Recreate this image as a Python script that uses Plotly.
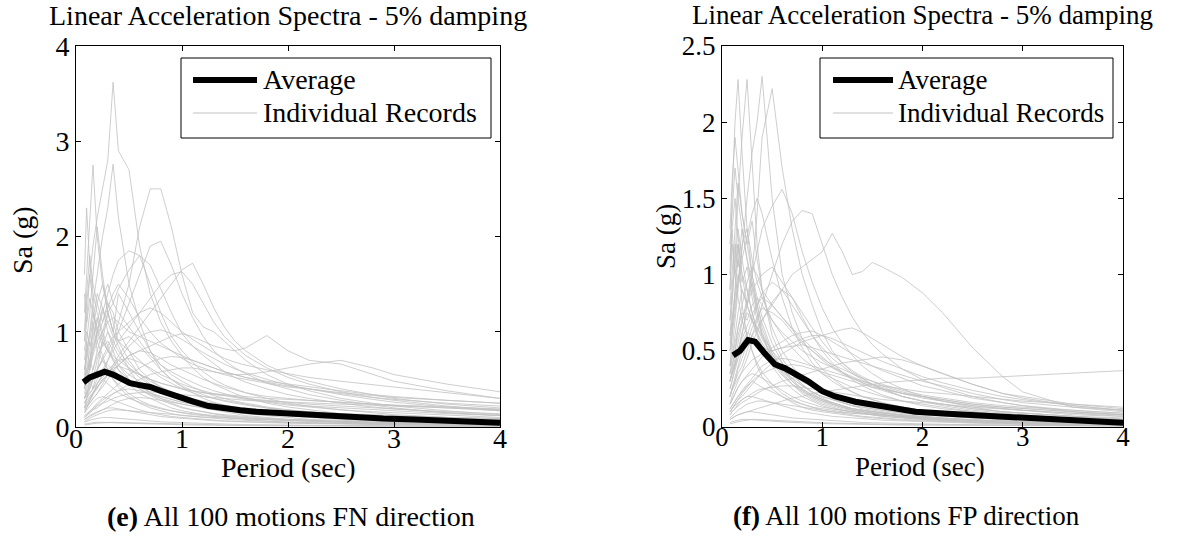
import plotly.graph_objects as go

# ---------------- data ----------------
periods = [0.08, 0.1, 0.13, 0.16, 0.2, 0.25, 0.3, 0.35, 0.4, 0.5, 0.6, 0.7, 0.8, 0.9, 1.0,
           1.1, 1.2, 1.3, 1.4, 1.5, 1.6, 1.8, 2.0, 2.2, 2.5, 2.8, 3.0, 3.5, 4.0]

fn_records = [
    [0.9,1.3,1.6,1.9,2.2,2.5,2.8,3.62,2.9,2.7,1.9,1.4,1.1,0.9,0.75,0.62,0.52,0.45,0.4,0.35,0.31,0.25,0.21,0.18,0.14,0.12,0.1,0.08,0.06],
    [0.3,0.35,0.4,0.5,0.6,0.7,0.8,0.9,1.1,1.5,2.1,2.5,2.5,2.1,1.6,1.2,1.05,1.0,0.9,0.8,0.7,0.55,0.45,0.38,0.3,0.25,0.22,0.17,0.13],
    [1.2,1.6,2.2,2.75,2.0,1.5,1.3,1.1,0.9,0.7,0.55,0.45,0.38,0.32,0.28,0.24,0.2,0.18,0.16,0.14,0.12,0.1,0.08,0.07,0.05,0.04,0.035,0.03,0.02],
    [1.6,2.3,1.7,1.4,1.2,1.0,0.85,0.7,0.6,0.45,0.35,0.3,0.25,0.2,0.17,0.15,0.13,0.11,0.1,0.09,0.08,0.06,0.05,0.045,0.035,0.03,0.025,0.02,0.015],
    [0.6,0.8,1.0,1.3,1.6,2.0,2.3,2.76,2.2,1.5,1.1,0.8,0.6,0.5,0.42,0.36,0.3,0.26,0.23,0.2,0.18,0.15,0.12,0.1,0.08,0.07,0.06,0.05,0.04],
    [0.2,0.25,0.3,0.35,0.45,0.55,0.7,0.85,1.0,1.3,1.6,1.9,1.95,1.7,1.4,1.15,0.95,0.8,0.7,0.62,0.56,0.46,0.4,0.34,0.28,0.23,0.2,0.15,0.12],
    [0.5,0.6,0.7,0.85,1.0,1.2,1.4,1.6,1.75,1.85,1.8,1.5,1.2,0.95,0.8,0.68,0.58,0.5,0.44,0.4,0.36,0.3,0.25,0.22,0.18,0.15,0.13,0.1,0.08],
    [0.3,0.4,0.5,0.6,0.8,1.0,1.2,1.3,1.45,1.65,1.8,1.7,1.45,1.2,0.98,0.85,0.75,0.66,0.58,0.52,0.47,0.4,0.34,0.3,0.25,0.21,0.19,0.15,0.12],
    [0.15,0.2,0.25,0.3,0.35,0.45,0.55,0.65,0.75,0.9,1.05,1.2,1.35,1.5,1.65,1.72,1.5,1.25,1.05,0.9,0.8,0.65,0.55,0.48,0.4,0.34,0.3,0.24,0.2],
    [0.25,0.3,0.35,0.4,0.5,0.6,0.7,0.8,0.9,1.05,1.2,1.35,1.5,1.6,1.63,1.5,1.3,1.1,0.95,0.85,0.75,0.62,0.52,0.45,0.37,0.31,0.28,0.22,0.18],
    [0.2,0.25,0.3,0.35,0.4,0.5,0.55,0.6,0.65,0.75,0.8,0.85,0.9,0.95,0.98,0.95,0.9,0.85,0.82,0.8,0.83,0.96,0.8,0.7,0.66,0.55,0.48,0.38,0.3],
    [0.1,0.12,0.15,0.18,0.2,0.25,0.3,0.35,0.38,0.45,0.5,0.55,0.58,0.6,0.62,0.62,0.6,0.58,0.56,0.55,0.55,0.58,0.62,0.66,0.7,0.62,0.55,0.45,0.37],
    [1.0,1.4,1.8,1.5,1.3,1.1,1.3,1.2,1.0,0.8,0.6,0.5,0.42,0.36,0.3,0.26,0.23,0.2,0.18,0.16,0.14,0.12,0.1,0.08,0.07,0.06,0.05,0.04,0.03],
    [0.7,0.9,1.2,1.6,2.1,1.6,1.2,1.0,0.85,0.6,0.45,0.36,0.3,0.25,0.21,0.18,0.16,0.14,0.12,0.11,0.1,0.08,0.07,0.06,0.05,0.04,0.035,0.03,0.02],
    [0.4,0.5,0.7,0.9,1.1,1.35,1.5,1.3,1.2,1.05,0.9,0.75,0.65,0.58,0.52,0.47,0.42,0.38,0.35,0.32,0.3,0.27,0.24,0.22,0.2,0.18,0.17,0.14,0.12],
    [0.5,0.55,0.65,0.8,0.95,1.1,1.25,1.4,1.5,1.35,1.15,1.0,0.88,0.8,0.72,0.66,0.62,0.58,0.55,0.52,0.5,0.46,0.42,0.4,0.36,0.33,0.31,0.28,0.25],
    [0.15,0.18,0.22,0.26,0.3,0.32,0.3,0.28,0.26,0.22,0.18,0.15,0.13,0.11,0.1,0.09,0.08,0.07,0.065,0.06,0.055,0.05,0.045,0.04,0.035,0.03,0.028,0.022,0.018],
    [0.3,0.36,0.45,0.55,0.6,0.7,0.65,0.6,0.55,0.48,0.4,0.34,0.3,0.27,0.24,0.22,0.2,0.19,0.18,0.17,0.16,0.14,0.13,0.12,0.1,0.09,0.085,0.07,0.06],
    [0.08,0.1,0.12,0.14,0.16,0.18,0.2,0.2,0.19,0.17,0.15,0.13,0.11,0.1,0.09,0.08,0.07,0.065,0.06,0.055,0.05,0.045,0.04,0.035,0.03,0.025,0.022,0.018,0.015],
    [0.6,0.75,0.95,1.2,1.05,0.9,0.8,0.75,0.7,0.62,0.55,0.5,0.46,0.43,0.4,0.38,0.36,0.34,0.33,0.32,0.3,0.28,0.26,0.24,0.22,0.2,0.19,0.16,0.14],
    [0.05,0.06,0.07,0.08,0.09,0.1,0.1,0.095,0.09,0.08,0.07,0.06,0.055,0.05,0.045,0.04,0.035,0.032,0.03,0.028,0.026,0.022,0.02,0.018,0.015,0.013,0.012,0.01,0.008],
    [0.4,0.5,0.6,0.75,0.9,1.0,1.1,1.15,1.1,1.0,0.95,0.9,0.85,0.8,0.75,0.7,0.66,0.62,0.58,0.55,0.52,0.48,0.45,0.42,0.38,0.34,0.32,0.28,0.25],
    [0.25,0.3,0.4,0.5,0.7,0.9,0.8,0.7,0.6,0.5,0.42,0.36,0.32,0.29,0.26,0.24,0.22,0.21,0.2,0.19,0.18,0.17,0.16,0.15,0.14,0.13,0.12,0.1,0.09],
    [0.2,0.22,0.25,0.3,0.35,0.42,0.5,0.58,0.65,0.75,0.8,0.78,0.72,0.65,0.6,0.55,0.5,0.46,0.42,0.39,0.36,0.32,0.3,0.28,0.26,0.24,0.23,0.21,0.19],
    [0.12,0.14,0.17,0.2,0.24,0.28,0.32,0.35,0.38,0.4,0.38,0.35,0.32,0.29,0.26,0.24,0.22,0.2,0.18,0.17,0.16,0.14,0.13,0.12,0.1,0.09,0.08,0.07,0.06],
    [0.9,1.1,1.35,1.2,1.0,0.85,0.9,0.8,0.65,0.5,0.4,0.33,0.28,0.24,0.2,0.18,0.16,0.14,0.13,0.12,0.11,0.09,0.08,0.07,0.06,0.05,0.045,0.035,0.03],
    [0.3,0.35,0.42,0.5,0.6,0.72,0.85,0.95,1.0,1.1,1.2,1.25,1.2,1.1,1.0,0.92,0.85,0.78,0.72,0.68,0.65,0.6,0.56,0.52,0.48,0.44,0.42,0.36,0.3],
    [0.1,0.12,0.15,0.18,0.22,0.25,0.27,0.3,0.32,0.35,0.36,0.37,0.36,0.35,0.34,0.33,0.32,0.31,0.3,0.29,0.28,0.27,0.26,0.25,0.24,0.23,0.22,0.2,0.18],
    [0.5,0.6,0.8,1.0,1.3,1.5,1.2,1.0,0.9,0.8,0.7,0.6,0.52,0.46,0.4,0.36,0.32,0.3,0.28,0.26,0.24,0.2,0.18,0.16,0.13,0.11,0.1,0.08,0.06],
    [0.03,0.035,0.04,0.045,0.05,0.05,0.048,0.045,0.042,0.038,0.034,0.03,0.027,0.025,0.023,0.021,0.02,0.018,0.017,0.016,0.015,0.013,0.012,0.011,0.01,0.009,0.008,0.007,0.006],
    [0.4,0.9,0.6,1.1,0.8,0.7,0.6,0.5,0.45,0.35,0.28,0.23,0.2,0.17,0.15,0.13,0.12,0.11,0.1,0.09,0.085,0.075,0.065,0.06,0.05,0.045,0.04,0.03,0.025],
    [0.2,0.3,0.5,0.4,0.6,0.9,1.2,1.0,1.4,1.2,1.0,0.8,0.65,0.55,0.48,0.42,0.37,0.33,0.3,0.27,0.25,0.21,0.18,0.16,0.13,0.11,0.1,0.08,0.07],
    [0.15,0.2,0.28,0.35,0.45,0.55,0.6,0.65,0.7,0.72,0.68,0.62,0.55,0.5,0.45,0.41,0.38,0.35,0.33,0.31,0.29,0.26,0.23,0.21,0.18,0.16,0.15,0.12,0.1],
    [0.06,0.07,0.09,0.11,0.13,0.15,0.17,0.18,0.18,0.17,0.16,0.15,0.14,0.13,0.12,0.11,0.105,0.1,0.095,0.09,0.085,0.075,0.07,0.065,0.055,0.05,0.045,0.04,0.035],
    [1.4,1.1,1.6,1.3,0.9,0.75,0.6,0.5,0.42,0.32,0.25,0.2,0.17,0.14,0.12,0.11,0.1,0.09,0.08,0.075,0.07,0.06,0.05,0.045,0.04,0.035,0.03,0.025,0.02],
    [0.35,0.45,0.6,0.8,1.0,1.25,1.1,0.95,0.9,0.95,0.85,0.72,0.6,0.5,0.43,0.38,0.34,0.3,0.27,0.25,0.23,0.2,0.17,0.15,0.12,0.1,0.09,0.07,0.06],
    [0.1,0.13,0.16,0.2,0.25,0.3,0.35,0.4,0.45,0.55,0.62,0.68,0.72,0.74,0.73,0.7,0.66,0.62,0.58,0.55,0.52,0.47,0.43,0.4,0.35,0.31,0.29,0.25,0.22],
    [0.02,0.025,0.03,0.035,0.04,0.045,0.05,0.05,0.048,0.045,0.04,0.036,0.032,0.03,0.028,0.026,0.024,0.022,0.02,0.019,0.018,0.016,0.015,0.014,0.012,0.011,0.01,0.008,0.007],
    [0.55,0.7,0.9,1.1,1.4,1.25,1.0,0.85,0.75,0.62,0.52,0.44,0.38,0.33,0.29,0.26,0.23,0.21,0.19,0.17,0.16,0.14,0.12,0.11,0.09,0.08,0.07,0.055,0.045],
    [0.25,0.28,0.32,0.36,0.42,0.48,0.55,0.62,0.7,0.85,0.95,1.0,1.02,0.98,0.92,0.85,0.78,0.72,0.66,0.61,0.57,0.5,0.44,0.4,0.34,0.29,0.26,0.21,0.17],
    [0.18,0.22,0.28,0.35,0.42,0.5,0.45,0.4,0.36,0.3,0.26,0.22,0.19,0.17,0.15,0.14,0.13,0.12,0.11,0.1,0.095,0.085,0.075,0.07,0.06,0.05,0.045,0.04,0.03],
    [0.8,1.0,0.85,0.95,1.15,0.95,0.8,0.72,0.65,0.55,0.48,0.42,0.37,0.33,0.3,0.27,0.25,0.23,0.21,0.2,0.19,0.17,0.15,0.14,0.12,0.11,0.1,0.08,0.07],
    [0.08,0.09,0.11,0.13,0.15,0.18,0.21,0.24,0.27,0.3,0.31,0.3,0.28,0.26,0.24,0.22,0.21,0.2,0.19,0.18,0.17,0.16,0.15,0.14,0.13,0.12,0.11,0.1,0.09],
    [0.45,0.55,0.7,0.6,0.75,0.85,1.0,0.9,0.8,0.66,0.56,0.48,0.42,0.37,0.33,0.3,0.27,0.25,0.23,0.21,0.2,0.18,0.16,0.14,0.12,0.1,0.09,0.07,0.06],
    [0.3,0.32,0.36,0.4,0.46,0.52,0.58,0.62,0.64,0.6,0.55,0.5,0.46,0.43,0.4,0.38,0.36,0.35,0.34,0.33,0.32,0.3,0.29,0.28,0.26,0.24,0.23,0.2,0.17],
]

fp_records = [
    [0.3,0.35,0.4,0.45,0.5,0.55,0.6,0.65,0.7,0.8,0.9,1.0,1.05,1.1,1.15,1.27,1.15,1.0,1.02,1.08,1.05,0.98,0.88,0.75,0.52,0.33,0.23,0.13,0.11],
    [0.3,0.35,0.4,0.5,0.6,0.8,1.0,1.4,1.9,2.22,1.7,1.3,1.0,0.8,0.62,0.5,0.42,0.36,0.32,0.28,0.25,0.2,0.17,0.14,0.11,0.09,0.08,0.06,0.05],
    [1.0,1.5,2.0,2.28,1.8,1.3,1.0,0.8,0.65,0.48,0.36,0.28,0.22,0.18,0.15,0.13,0.11,0.1,0.09,0.08,0.07,0.06,0.05,0.04,0.03,0.025,0.02,0.015,0.01],
    [0.6,0.8,1.1,1.5,1.9,2.28,1.7,1.2,0.9,0.6,0.45,0.35,0.28,0.22,0.18,0.15,0.13,0.11,0.1,0.09,0.08,0.065,0.055,0.045,0.035,0.03,0.025,0.02,0.015],
    [0.4,0.5,0.7,0.9,1.2,1.5,1.8,2.0,2.3,1.5,1.0,0.75,0.58,0.46,0.38,0.32,0.27,0.23,0.2,0.18,0.16,0.13,0.11,0.09,0.07,0.06,0.05,0.04,0.03],
    [0.3,0.35,0.45,0.55,0.7,0.85,1.0,1.15,1.3,1.45,1.56,1.4,1.15,0.95,0.78,0.65,0.55,0.47,0.4,0.35,0.31,0.25,0.2,0.17,0.13,0.1,0.09,0.07,0.05],
    [0.2,0.25,0.3,0.35,0.4,0.5,0.6,0.7,0.8,1.0,1.2,1.35,1.42,1.4,1.2,1.0,0.85,0.72,0.62,0.54,0.48,0.38,0.31,0.26,0.2,0.16,0.14,0.1,0.08],
    [0.1,0.12,0.15,0.18,0.2,0.24,0.28,0.32,0.36,0.42,0.48,0.52,0.56,0.58,0.6,0.62,0.64,0.65,0.62,0.58,0.54,0.46,0.4,0.35,0.28,0.22,0.2,0.15,0.12],
    [0.08,0.1,0.12,0.14,0.16,0.18,0.2,0.22,0.24,0.27,0.3,0.32,0.34,0.36,0.38,0.4,0.42,0.43,0.44,0.45,0.46,0.44,0.4,0.35,0.28,0.22,0.19,0.14,0.11],
    [0.05,0.06,0.07,0.08,0.09,0.1,0.11,0.12,0.13,0.15,0.17,0.19,0.2,0.22,0.23,0.24,0.25,0.26,0.27,0.28,0.29,0.3,0.31,0.32,0.32,0.33,0.334,0.355,0.37],
    [1.2,1.4,1.7,1.5,1.3,1.1,0.95,0.8,0.68,0.5,0.38,0.3,0.24,0.2,0.17,0.15,0.13,0.11,0.1,0.09,0.08,0.065,0.055,0.045,0.035,0.03,0.025,0.02,0.015],
    [0.8,1.0,1.3,1.6,1.4,1.2,1.35,1.1,0.9,0.65,0.5,0.4,0.32,0.26,0.22,0.19,0.16,0.14,0.12,0.11,0.1,0.08,0.07,0.06,0.045,0.035,0.03,0.022,0.018],
    [0.5,0.6,0.75,0.95,1.2,1.3,1.1,0.95,0.85,0.7,0.6,0.52,0.45,0.4,0.35,0.32,0.29,0.26,0.24,0.22,0.2,0.17,0.15,0.13,0.1,0.08,0.07,0.06,0.05],
    [0.3,0.38,0.5,0.65,0.8,0.95,1.05,1.0,0.9,0.8,0.72,0.65,0.58,0.52,0.46,0.4,0.36,0.32,0.29,0.27,0.25,0.22,0.19,0.17,0.14,0.12,0.11,0.09,0.07],
    [0.6,0.7,0.85,1.0,0.9,0.8,0.7,0.62,0.55,0.45,0.38,0.32,0.27,0.23,0.2,0.18,0.16,0.14,0.13,0.12,0.11,0.09,0.08,0.07,0.06,0.05,0.045,0.035,0.03],
    [0.2,0.25,0.3,0.38,0.45,0.55,0.65,0.72,0.78,0.75,0.7,0.62,0.55,0.5,0.45,0.41,0.38,0.35,0.32,0.3,0.28,0.24,0.21,0.19,0.16,0.14,0.13,0.11,0.09],
    [0.15,0.18,0.22,0.26,0.3,0.33,0.35,0.34,0.32,0.28,0.24,0.2,0.17,0.15,0.13,0.12,0.11,0.1,0.09,0.085,0.08,0.07,0.06,0.055,0.045,0.04,0.035,0.03,0.025],
    [0.1,0.12,0.14,0.16,0.18,0.2,0.2,0.19,0.18,0.16,0.14,0.12,0.1,0.09,0.08,0.07,0.065,0.06,0.055,0.05,0.045,0.04,0.035,0.03,0.025,0.02,0.018,0.015,0.012],
    [0.9,1.2,1.0,0.85,0.7,0.6,0.5,0.42,0.36,0.28,0.22,0.18,0.15,0.13,0.11,0.1,0.09,0.08,0.07,0.065,0.06,0.05,0.045,0.04,0.03,0.025,0.02,0.015,0.012],
    [0.4,0.45,0.55,0.65,0.75,0.7,0.8,0.85,0.8,0.7,0.62,0.56,0.5,0.46,0.42,0.39,0.36,0.33,0.3,0.28,0.26,0.22,0.2,0.18,0.15,0.13,0.12,0.1,0.08],
    [0.05,0.06,0.07,0.08,0.09,0.1,0.1,0.095,0.09,0.08,0.07,0.06,0.055,0.05,0.045,0.04,0.036,0.033,0.03,0.028,0.026,0.022,0.02,0.018,0.015,0.013,0.012,0.01,0.008],
    [0.25,0.3,0.38,0.46,0.55,0.62,0.6,0.56,0.52,0.5,0.52,0.55,0.58,0.6,0.6,0.58,0.55,0.52,0.49,0.46,0.43,0.38,0.33,0.29,0.24,0.2,0.18,0.14,0.11],
    [0.7,0.85,1.1,1.3,1.1,0.9,0.75,0.65,0.58,0.46,0.38,0.32,0.27,0.23,0.2,0.18,0.16,0.14,0.13,0.12,0.11,0.09,0.08,0.07,0.06,0.05,0.045,0.035,0.03],
    [0.15,0.2,0.25,0.3,0.38,0.45,0.55,0.62,0.7,0.82,0.9,0.85,0.75,0.65,0.56,0.48,0.42,0.37,0.33,0.3,0.27,0.23,0.2,0.17,0.14,0.12,0.11,0.08,0.07],
    [0.03,0.035,0.04,0.045,0.05,0.05,0.048,0.045,0.042,0.038,0.034,0.03,0.027,0.025,0.023,0.021,0.02,0.018,0.017,0.016,0.015,0.013,0.012,0.011,0.01,0.009,0.008,0.007,0.006],
    [0.35,0.4,0.5,0.6,0.7,0.8,0.9,0.95,1.0,1.05,0.95,0.85,0.72,0.6,0.5,0.42,0.36,0.31,0.27,0.24,0.21,0.17,0.14,0.12,0.1,0.08,0.07,0.05,0.04],
    [0.2,0.24,0.28,0.32,0.36,0.4,0.44,0.46,0.48,0.5,0.52,0.53,0.54,0.52,0.5,0.48,0.46,0.44,0.42,0.4,0.38,0.34,0.3,0.27,0.22,0.18,0.16,0.13,0.1],
    [1.3,1.6,1.9,1.7,1.4,1.2,1.0,0.85,0.72,0.55,0.42,0.34,0.28,0.23,0.19,0.16,0.14,0.12,0.11,0.1,0.09,0.075,0.065,0.055,0.045,0.035,0.03,0.022,0.018],
    [0.12,0.14,0.17,0.2,0.24,0.28,0.32,0.36,0.4,0.44,0.45,0.44,0.42,0.4,0.38,0.36,0.34,0.32,0.3,0.28,0.27,0.25,0.23,0.22,0.2,0.18,0.17,0.15,0.13],
    [0.5,0.65,0.8,0.95,1.1,1.25,1.4,1.5,1.4,1.1,0.85,0.65,0.52,0.42,0.35,0.3,0.26,0.23,0.2,0.18,0.16,0.13,0.11,0.1,0.08,0.065,0.055,0.045,0.035],
    [0.9,1.3,1.0,1.2,0.8,0.6,0.5,0.4,0.33,0.25,0.2,0.16,0.13,0.11,0.1,0.09,0.08,0.07,0.065,0.06,0.055,0.045,0.04,0.035,0.03,0.025,0.02,0.015,0.012],
    [0.4,0.6,0.9,1.2,1.0,0.8,0.95,0.75,0.6,0.45,0.35,0.28,0.23,0.19,0.16,0.14,0.12,0.11,0.1,0.09,0.08,0.065,0.055,0.05,0.04,0.03,0.025,0.02,0.015],
    [0.25,0.3,0.4,0.5,0.62,0.75,0.7,0.65,0.6,0.5,0.42,0.36,0.3,0.26,0.23,0.2,0.18,0.16,0.14,0.13,0.12,0.1,0.09,0.08,0.06,0.05,0.045,0.035,0.03],
    [0.06,0.07,0.09,0.11,0.13,0.15,0.16,0.17,0.17,0.16,0.15,0.14,0.13,0.12,0.11,0.1,0.095,0.09,0.085,0.08,0.075,0.065,0.06,0.055,0.045,0.04,0.035,0.03,0.025],
    [1.1,1.3,1.5,1.25,1.0,0.9,0.75,0.62,0.52,0.4,0.31,0.25,0.2,0.17,0.14,0.12,0.11,0.1,0.09,0.08,0.07,0.06,0.05,0.045,0.035,0.03,0.025,0.02,0.015],
    [0.2,0.25,0.32,0.4,0.5,0.6,0.7,0.8,0.88,0.95,0.9,0.8,0.7,0.6,0.52,0.45,0.4,0.35,0.31,0.28,0.25,0.2,0.17,0.15,0.12,0.1,0.09,0.07,0.05],
    [0.15,0.18,0.22,0.26,0.3,0.34,0.38,0.42,0.46,0.52,0.56,0.6,0.62,0.63,0.6,0.56,0.52,0.48,0.44,0.4,0.37,0.32,0.27,0.24,0.19,0.16,0.14,0.11,0.09],
    [0.02,0.025,0.03,0.035,0.04,0.045,0.05,0.05,0.048,0.045,0.04,0.036,0.032,0.03,0.028,0.026,0.024,0.022,0.02,0.019,0.018,0.016,0.015,0.014,0.012,0.011,0.01,0.008,0.007],
    [0.7,0.9,1.2,1.05,1.3,1.1,0.9,0.75,0.62,0.48,0.38,0.31,0.25,0.21,0.18,0.16,0.14,0.12,0.11,0.1,0.09,0.075,0.065,0.055,0.045,0.035,0.03,0.025,0.02],
    [0.3,0.35,0.42,0.5,0.58,0.66,0.74,0.8,0.85,0.8,0.72,0.64,0.56,0.5,0.44,0.39,0.35,0.32,0.29,0.26,0.24,0.2,0.17,0.15,0.12,0.1,0.09,0.07,0.06],
    [0.1,0.12,0.15,0.18,0.22,0.26,0.3,0.28,0.26,0.23,0.2,0.17,0.15,0.13,0.12,0.11,0.1,0.09,0.085,0.08,0.075,0.065,0.06,0.055,0.045,0.04,0.035,0.03,0.025],
    [0.55,0.7,0.9,1.1,0.95,1.05,0.85,0.7,0.6,0.46,0.37,0.3,0.25,0.21,0.18,0.16,0.14,0.12,0.11,0.1,0.09,0.075,0.065,0.055,0.045,0.035,0.03,0.025,0.02],
    [0.12,0.14,0.17,0.2,0.23,0.27,0.3,0.33,0.35,0.38,0.4,0.41,0.4,0.38,0.36,0.34,0.32,0.3,0.28,0.26,0.25,0.22,0.2,0.18,0.15,0.13,0.12,0.1,0.08],
    [0.35,0.45,0.6,0.75,0.9,0.8,0.7,0.6,0.52,0.42,0.34,0.28,0.24,0.2,0.17,0.15,0.13,0.12,0.11,0.1,0.09,0.08,0.07,0.06,0.05,0.04,0.035,0.03,0.025],
    [0.08,0.1,0.12,0.15,0.18,0.2,0.22,0.24,0.25,0.26,0.27,0.27,0.26,0.25,0.24,0.23,0.22,0.21,0.2,0.19,0.18,0.17,0.16,0.15,0.13,0.12,0.11,0.09,0.08],
]

fn_avg_T = [0.07, 0.13, 0.2, 0.27, 0.35, 0.45, 0.51, 0.6, 0.7, 0.8, 0.9, 1.0, 1.1, 1.25, 1.4,
            1.55, 1.7, 1.85, 2.0, 2.3, 2.6, 2.9, 3.2, 3.5, 3.8, 4.0]
fn_avg = [0.47, 0.52, 0.55, 0.58, 0.55, 0.49, 0.46, 0.44, 0.42, 0.38, 0.34, 0.31, 0.27, 0.22, 0.19,
          0.175, 0.16, 0.15, 0.137, 0.115, 0.097, 0.088, 0.08, 0.065, 0.05, 0.045]

fp_avg_T = [0.11, 0.18, 0.26, 0.33, 0.43, 0.53, 0.63, 0.76, 0.86, 1.0, 1.13, 1.33, 1.6, 1.93,
            2.3, 2.65, 3.0, 3.3, 3.6, 4.0]
fp_avg = [0.47, 0.50, 0.57, 0.56, 0.48, 0.41, 0.385, 0.34, 0.30, 0.235, 0.20, 0.166, 0.133, 0.10,
          0.085, 0.074, 0.062, 0.052, 0.04, 0.028]

x_ticks = [0, 1, 2, 3, 4]
fn_y_ticks = [0, 1, 2, 3, 4]
fp_y_ticks = [0, 0.5, 1, 1.5, 2, 2.5]
fp_y_labels = ["0", "0.5", "1", "1.5", "2", "2.5"]

title_text = "Linear Acceleration Spectra - 5% damping"
x_label = "Period (sec)"
y_label = "Sa (g)"
caption_fn = "<b>(e)</b> All 100 motions FN direction"
caption_fp = "<b>(f)</b> All 100 motions FP direction"
legend_avg = "Average"
legend_ind = "Individual Records"

# ---------------- style ----------------
W, H = 1190, 541
FONT = "Liberation Serif, Times New Roman, serif"
GRAY = "#c2c2c2"


def px(x):
    return x / W


def py(y):
    return 1 - y / H


fig = go.Figure()

for rec in fn_records:
    fig.add_trace(go.Scatter(x=periods, y=rec, mode="lines", xaxis="x", yaxis="y",
                             line=dict(color=GRAY, width=0.8), showlegend=False, hoverinfo="skip"))
fig.add_trace(go.Scatter(x=fn_avg_T, y=fn_avg, mode="lines", xaxis="x", yaxis="y",
                         line=dict(color="black", width=6), showlegend=False))

for rec in fp_records:
    fig.add_trace(go.Scatter(x=periods, y=rec, mode="lines", xaxis="x2", yaxis="y2",
                             line=dict(color=GRAY, width=0.8), showlegend=False, hoverinfo="skip"))
fig.add_trace(go.Scatter(x=fp_avg_T, y=fp_avg, mode="lines", xaxis="x2", yaxis="y2",
                         line=dict(color="black", width=6), showlegend=False))

axis_common = dict(showline=True, linecolor="black", linewidth=1, mirror="ticks",
                   ticks="inside", ticklen=5, tickcolor="black", showgrid=False,
                   zeroline=False, fixedrange=True, automargin=False)

fig.update_layout(
    template="none",
    width=W, height=H, margin=dict(l=0, r=0, t=0, b=0, pad=0, autoexpand=False),
    paper_bgcolor="white", plot_bgcolor="white",
    font=dict(family=FONT, color="black"),
    xaxis=dict(domain=[px(76), px(500)], range=[0, 4], tickvals=x_ticks, anchor="y",
               ticklabelstandoff=-14, tickfont=dict(family=FONT, size=28), **axis_common),
    yaxis=dict(domain=[py(427), py(46)], range=[0, 4], tickvals=fn_y_ticks, anchor="x",
               tickfont=dict(family=FONT, size=28), **axis_common),
    xaxis2=dict(domain=[px(722), px(1123)], range=[0, 4], tickvals=x_ticks, anchor="y2",
                ticklabelstandoff=-14, tickfont=dict(family=FONT, size=27), **axis_common),
    yaxis2=dict(domain=[py(427), py(46)], range=[0, 2.5], tickvals=fp_y_ticks,
                ticktext=fp_y_labels, anchor="x2",
                tickfont=dict(family=FONT, size=27), **axis_common),
    showlegend=False,
)

annotations = []
shapes = []


def add_text(x, y, text, size, xanchor="center", yanchor="middle", angle=0):
    annotations.append(dict(x=px(x), y=py(y), xref="paper", yref="paper", text=text,
                            showarrow=False, xanchor=xanchor, yanchor=yanchor, textangle=angle,
                            font=dict(family=FONT, size=size, color="black")))


# titles, axis labels, captions
add_text(288, 15, title_text, 28)
add_text(922, 15, title_text, 27)
add_text(288, 467, x_label, 28)
add_text(920, 467, x_label, 27)
add_text(22, 240, y_label, 28, angle=-90)
add_text(666, 237, y_label, 27, angle=-90)
add_text(291, 516, caption_fn, 28)
add_text(906, 516, caption_fp, 27)

# manual legends
for (bx0, bx1, lx0, lx1, tx, fs) in [(181, 491, 193, 257, 261, 28), (820, 1113, 833, 893, 896, 27)]:
    shapes.append(dict(type="rect", xref="paper", yref="paper", x0=px(bx0), x1=px(bx1),
                       y0=py(138), y1=py(58), line=dict(color="black", width=1),
                       fillcolor="white", layer="above"))
    shapes.append(dict(type="line", xref="paper", yref="paper", x0=px(lx0), x1=px(lx1),
                       y0=py(80), y1=py(80), line=dict(color="black", width=6), layer="above"))
    shapes.append(dict(type="line", xref="paper", yref="paper", x0=px(lx0), x1=px(lx1),
                       y0=py(113), y1=py(113), line=dict(color=GRAY, width=1), layer="above"))
    add_text(tx, 80, legend_avg, fs, xanchor="left")
    add_text(tx, 113, legend_ind, fs, xanchor="left")

fig.update_layout(annotations=annotations, shapes=shapes)

fig.write_html("out.html")
